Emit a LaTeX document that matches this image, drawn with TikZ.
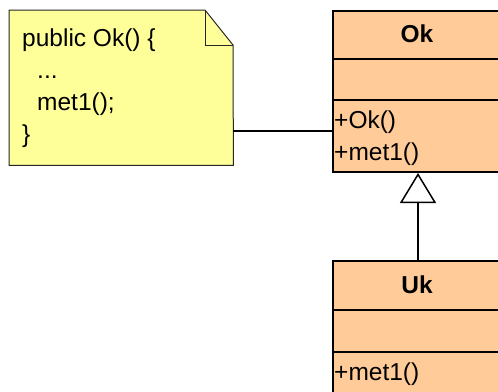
\documentclass[tikz,border=0pt]{standalone}
\usepackage{fontspec}
\setmainfont{Liberation Sans}
\usetikzlibrary{arrows.meta}
\definecolor{noteyellow}{HTML}{FFFF99}
\definecolor{classpeach}{HTML}{FFCC99}
\tikzset{
  txt/.style={inner sep=0pt, anchor=base west, font=\fontsize{24.5bp}{32bp}\selectfont},
  title/.style={inner sep=0pt, anchor=base, font=\fontsize{24.5bp}{32bp}\selectfont\bfseries},
  classbox/.style={draw=black, line width=2bp, fill=classpeach, anchor=north west, inner sep=0pt},
  notebox/.style={inner sep=0pt, minimum width=224bp, minimum height=155bp, anchor=north west},
  conn/.style={draw=black, line width=1.5bp},
  inherit/.style={conn, -{Triangle[open, length=30bp, width=36bp, line width=1.5bp]}},
}
\begin{document}
\begin{tikzpicture}[x=1bp, y=-1bp]
\useasboundingbox (0,0) rectangle (498,391);
\clip (0,0) rectangle (498,391);
% note
\node[notebox] (note) at (9,10) {};
\draw[fill=noteyellow, draw=black!85, line width=1bp]
  (note.north west) -- (205,10) -- (233,45) -- (note.south east) -- (note.south west) -- cycle;
\draw[draw=black!85, line width=1bp] (205,10) -- (205,45) -- (233,45);
\node[txt] (n1) at (22,46) {public Ok() \{};
\node[txt] (n2) at (37,78) {...};
\node[txt] (n3) at (37,110) {met1();};
\node[txt] (n4) at (22,142) {\}};
% class Ok
\node[classbox, minimum width=170bp, minimum height=161bp] (ok) at (332,10) {};
\draw[line width=2bp] (332,59) -- (502,59);
\draw[line width=2bp] (332,100) -- (502,100);
\node[title] (okname) at (417,42) {Ok};
\node[txt] (ok1) at (334,128) {+Ok()};
\node[txt] (ok2) at (334,160) {+met1()};
% class Uk
\node[classbox, minimum width=170bp, minimum height=150bp] (uk) at (332,260) {};
\draw[line width=2bp] (332,310) -- (502,310);
\draw[line width=2bp] (332,352) -- (502,352);
\node[title] (ukname) at (417,293) {Uk};
\node[txt] (uk1) at (334,380) {+met1()};
% connectors
\coordinate (c1) at (233,131);
\draw[conn] (c1) -- (ok.west |- c1);
\draw[inherit] (uk.north) -- (ok.south);
\end{tikzpicture}
\end{document}
